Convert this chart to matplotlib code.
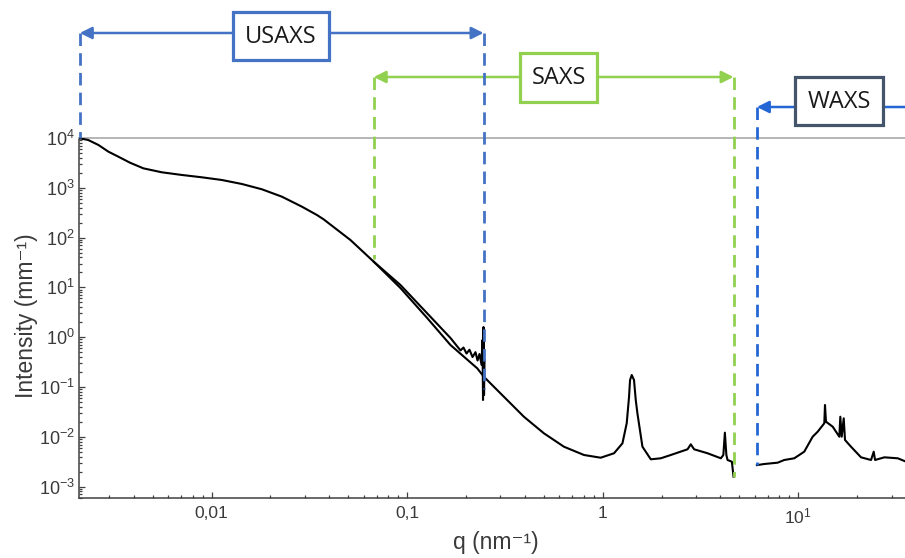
import numpy as np
import matplotlib
matplotlib.use("Agg")
import matplotlib.pyplot as plt
from matplotlib.patches import Rectangle, FancyArrowPatch
from matplotlib.ticker import FixedLocator, FixedFormatter, LogLocator, NullFormatter

# -----------------------------------------------------------------------------
# Scattering curve (q in nm^-1, I in mm^-1)
# -----------------------------------------------------------------------------
usaxs_q = [0.00212, 0.00234, 0.00264, 0.00297, 0.00334, 0.00383, 0.00448, 0.00556,
           0.00705, 0.00892, 0.0113, 0.0143, 0.0181, 0.0229, 0.0290, 0.0346, 0.0374,
           0.0513, 0.0675, 0.0924, 0.1266, 0.1666, 0.1803, 0.1875, 0.1942, 0.2012,
           0.2084, 0.2160, 0.2237, 0.2291, 0.2345, 0.2401, 0.2429, 0.2444, 0.2459,
           0.2473, 0.2488]
usaxs_I = [9860, 9120, 7240, 5310, 4210, 3190, 2460, 2050,
           1810, 1625, 1434, 1192, 933, 663, 417, 284, 233,
           89.5, 32.8, 11.2, 3.02, 0.964, 0.655, 0.543, 0.62, 0.47,
           0.560, 0.40, 0.50, 0.34, 0.46, 0.28, 0.879, 0.0548, 1.60,
           0.069, 0.348]

saxs_q = [0.0675, 0.0924, 0.1266, 0.1666, 0.2282, 0.2467, 0.3123, 0.3954, 0.5005,
          0.6337, 0.8022, 0.9767, 1.143, 1.262, 1.327, 1.364, 1.380, 1.408, 1.446,
          1.476, 1.505, 1.597, 1.762, 1.982, 2.230, 2.715, 2.822, 2.934, 3.436,
          4.020, 4.14, 4.215, 4.29, 4.350, 4.576, 4.669]
saxs_I = [32.8, 9.73, 2.43, 0.697, 0.2376, 0.161, 0.0638, 0.0253, 0.01175,
          0.00632, 0.00431, 0.0038, 0.00467, 0.0074, 0.0187, 0.0638, 0.138, 0.174, 0.138,
          0.0548, 0.0296, 0.00632, 0.00353, 0.0037, 0.00431, 0.00561, 0.00706, 0.00561, 0.00467,
          0.0037, 0.00431, 0.0121, 0.00431, 0.00342, 0.00316, 0.00158]

waxs_q = [6.145, 6.696, 7.846, 8.48, 9.54, 10.73, 11.85, 12.57, 13.59, 13.70, 13.86,
          15.0, 16.22, 16.41, 16.68, 17.08, 17.34, 18.61, 20.94, 23.56, 24.32, 24.70,
          27.57, 32.28, 35.6, 36.5]
waxs_I = [0.0027, 0.00284, 0.00302, 0.00342, 0.0037, 0.00502, 0.01004, 0.01265, 0.0187,
          0.0435, 0.0201, 0.01596, 0.01004, 0.0253, 0.01004, 0.0235, 0.00863, 0.00632,
          0.00387, 0.00342, 0.00502, 0.00342, 0.00387, 0.0037, 0.00316, 0.0031]

x_ticks = [0.01, 0.1, 1, 10]
x_tick_labels = ["0,01", "0,1", "1", r"$10^{1}$"]
y_ticks = [1e-3, 1e-2, 1e-1, 1e0, 1e1, 1e2, 1e3, 1e4]
y_tick_labels = [r"$10^{-3}$", r"$10^{-2}$", r"$10^{-1}$", r"$10^{0}$",
                 r"$10^{1}$", r"$10^{2}$", r"$10^{3}$", r"$10^{4}$"]

# q ranges covered by each instrument, and where the dashed markers stop
range_names = ["USAXS", "SAXS", "WAXS"]
range_lo = [usaxs_q[0], saxs_q[0], waxs_q[0]]
range_hi = [0.2459, saxs_q[-1], None]
drop_lo = [usaxs_I[0], 38, waxs_I[0]]
drop_hi = [0.09, saxs_I[-1], None]

# -----------------------------------------------------------------------------
W, H = 905, 558
plt.rcParams["font.family"] = ["Liberation Sans", "DejaVu Sans"]
plt.rcParams["mathtext.default"] = "regular"

fig = plt.figure(figsize=(W / 100, H / 100), dpi=100)
ax = fig.add_axes([79 / W, 60 / H, (W - 79) / W + 0.002, 360 / H])

ax.plot(usaxs_q, usaxs_I, color="black", lw=1.5, zorder=3)
ax.plot(saxs_q, saxs_I, color="black", lw=1.5, zorder=3)
ax.plot(waxs_q, waxs_I, color="black", lw=1.5, zorder=3)

ax.set_xscale("log")
ax.set_yscale("log")
ax.set_xlim(0.0021, 35.9)
ax.set_ylim(5.9e-4, 1e4)

ax.xaxis.set_major_locator(FixedLocator(x_ticks))
ax.xaxis.set_major_formatter(FixedFormatter(x_tick_labels))
ax.yaxis.set_major_locator(FixedLocator(y_ticks))
ax.yaxis.set_major_formatter(FixedFormatter(y_tick_labels))
ax.xaxis.set_minor_locator(LogLocator(base=10, subs=np.arange(2, 10), numticks=20))
ax.yaxis.set_minor_locator(LogLocator(base=10, subs=np.arange(2, 10), numticks=20))
ax.xaxis.set_minor_formatter(NullFormatter())
ax.yaxis.set_minor_formatter(NullFormatter())

ax.tick_params(which="both", direction="in", color="#404040", width=0.9,
               top=False, right=False)
ax.tick_params(which="major", length=4.5)
ax.tick_params(which="minor", length=2.2)
ax.tick_params(axis="x", which="major", pad=6, labelsize=12.5, labelcolor="#3a3a3a")
ax.tick_params(axis="y", which="major", pad=3, labelsize=13, labelcolor="#3a3a3a")

for side in ["left", "bottom"]:
    ax.spines[side].set_color("#404040")
    ax.spines[side].set_linewidth(1.1)
ax.spines["top"].set_color("#b0b0b0")
ax.spines["top"].set_linewidth(1.3)
ax.spines["right"].set_visible(False)

fig.text(496 / W, 1 - 542 / H, "q (nm⁻¹)", ha="center", va="center",
         fontsize=16.5, color="#3a3a3a")
fig.text(26 / W, 1 - 316 / H, "Intensity (mm⁻¹)", ha="center", va="center",
         rotation=90, fontsize=16.5, color="#3a3a3a")

# -----------------------------------------------------------------------------
# Range brackets, drawn on a pixel overlay
# -----------------------------------------------------------------------------
ov = fig.add_axes([0, 0, 1, 1], zorder=5)
ov.set_xlim(0, W)
ov.set_ylim(H, 0)
ov.axis("off")


def to_px(q, I):
    x, y = ax.transData.transform((q, I))
    return x, H - y


colors = ["#4472C4", "#92D050", "#2467D4"]
box_edges = ["#4472C4", "#92D050", "#44546A"]
arrow_y = [33, 77, 107]
boxes = [(232.7, 11.7, 96, 48.3), (520, 53.3, 77, 48.3), (795, 77.3, 88, 47.7)]
dash = (0, (4.5, 2.6))

for i, name in enumerate(range_names):
    c = colors[i]
    xa, ya = to_px(range_lo[i], drop_lo[i])
    ov.plot([xa, xa], [arrow_y[i], ya], color=c, lw=2.0, linestyle=dash)
    if range_hi[i] is not None:
        xb, yb = to_px(range_hi[i], drop_hi[i])
        ov.plot([xb, xb], [arrow_y[i], yb], color=c, lw=2.0, linestyle=dash)
        style = "<|-|>,head_length=0.6,head_width=0.3"
    else:
        xb = W + 5
        style = "<|-,head_length=0.6,head_width=0.3"
    ov.add_patch(FancyArrowPatch((xa, arrow_y[i]), (xb, arrow_y[i]), arrowstyle=style,
                                 mutation_scale=12, color=c, lw=1.8,
                                 shrinkA=0, shrinkB=0, clip_on=False))
    bx, by, bw, bh = boxes[i]
    ov.add_patch(Rectangle((bx, by), bw, bh, facecolor="white", edgecolor=box_edges[i],
                           lw=2.3, zorder=6))
    ov.text(bx + bw / 2, by + bh / 2 + 1, name, ha="center", va="center",
            fontsize=17, family=["Open Sans", "DejaVu Sans"], color="#1a1a1a", zorder=7)

fig.savefig("out.png", dpi=100)
